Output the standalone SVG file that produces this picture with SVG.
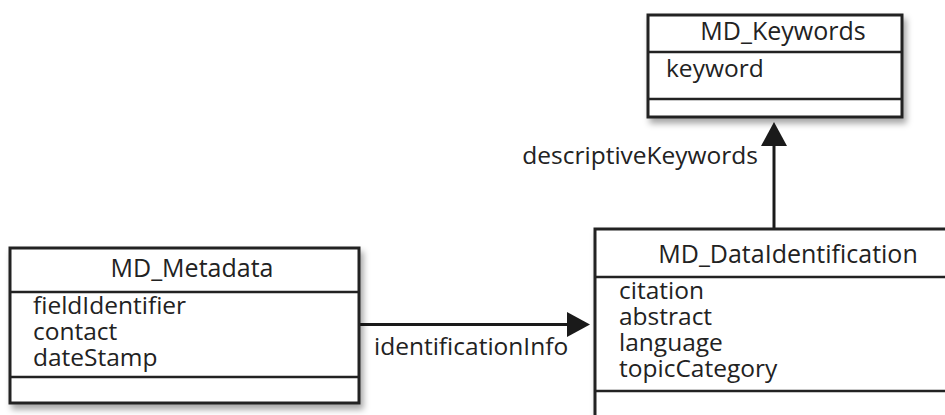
<svg xmlns="http://www.w3.org/2000/svg" width="945" height="415" viewBox="0 0 945 415">
<style>
  .box { fill: #ffffff; stroke: #222222; stroke-width: 3; filter: url(#shadow); }
  .div { stroke: #222222; stroke-width: 2.5; fill: none; }
  .title { font-family: "Open Sans", "Noto Sans", sans-serif; font-size: 25px; fill: #222222; text-anchor: middle; }
  .attr { font-family: "Open Sans", "Noto Sans", sans-serif; font-size: 24.5px; fill: #222222; }
  .label { font-family: "Open Sans", "Noto Sans", sans-serif; font-size: 24.5px; fill: #222222; }
  .conn { stroke: #1a1a1a; stroke-width: 3; fill: none; }
  .head { fill: #1a1a1a; stroke: none; }
</style>
<defs>
  <filter id="shadow" x="-10%" y="-10%" width="130%" height="140%">
    <feDropShadow dx="3" dy="5" stdDeviation="3" flood-color="#000000" flood-opacity="0.35"/>
  </filter>
</defs>
<rect width="945" height="415" fill="#ffffff"/>

<g id="connectors">
  <g id="conn-descriptiveKeywords">
    <line class="conn" x1="774" y1="229" x2="774" y2="143"/>
    <polygon class="head" points="774,122 787,146 761,146"/>
    <text class="label" x="758" y="164" text-anchor="end">descriptiveKeywords</text>
  </g>
  <g id="conn-identificationInfo">
    <line class="conn" x1="359" y1="324.5" x2="569" y2="324.5"/>
    <polygon class="head" points="590,324.5 567,312 567,337"/>
    <text class="label" x="374" y="355">identificationInfo</text>
  </g>
</g>

<g id="MD_Keywords">
  <rect class="box" x="648" y="15" width="254" height="102"/>
  <line class="div" x1="648" y1="52" x2="902" y2="52"/>
  <line class="div" x1="648" y1="99" x2="902" y2="99"/>
  <text class="title" x="783" y="40">MD_Keywords</text>
  <text class="attr" x="666" y="77">keyword</text>
</g>

<g id="MD_Metadata">
  <rect class="box" x="10" y="248" width="349" height="155"/>
  <line class="div" x1="10" y1="292" x2="359" y2="292"/>
  <line class="div" x1="10" y1="377" x2="359" y2="377"/>
  <text class="title" x="192" y="277">MD_Metadata</text>
  <text class="attr" x="33" y="314">fieldIdentifier</text>
  <text class="attr" x="33" y="340">contact</text>
  <text class="attr" x="33" y="366">dateStamp</text>
</g>

<g id="MD_DataIdentification">
  <rect class="box" x="595" y="229" width="390" height="220"/>
  <line class="div" x1="595" y1="277" x2="985" y2="277"/>
  <line class="div" x1="595" y1="391" x2="985" y2="391"/>
  <text class="title" x="788" y="263">MD_DataIdentification</text>
  <text class="attr" x="619" y="299">citation</text>
  <text class="attr" x="619" y="325">abstract</text>
  <text class="attr" x="619" y="351">language</text>
  <text class="attr" x="619" y="377">topicCategory</text>
</g>
</svg>
